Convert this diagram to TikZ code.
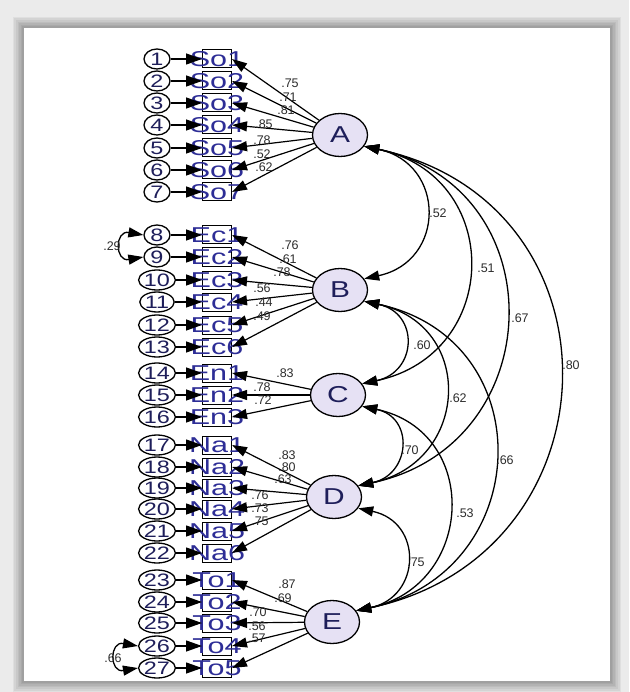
\documentclass[tikz,border=0pt]{standalone}
\usepackage{fontspec}
\setmainfont{Liberation Sans}
\newfontfamily\widesans[FakeStretch=1.3]{Liberation Sans}
\newfontfamily\widersans[FakeStretch=1.42]{Liberation Sans}
\usetikzlibrary{shapes.geometric,arrows.meta}

\definecolor{latfill}{RGB}{230,225,244}
\definecolor{itemblue}{RGB}{45,45,150}
\definecolor{navy}{RGB}{30,30,90}
\definecolor{coefgray}{RGB}{45,45,45}

\tikzset{
  error/.style={ellipse,draw,line width=1.3pt,minimum width=26pt,minimum height=20pt,
    inner sep=0pt,font=\widesans\fontsize{18}{18}\selectfont,text=navy},
  item/.style={rectangle,draw,line width=1pt,minimum width=29pt,minimum height=18pt,inner sep=0pt},
  itemtext/.style={inner sep=0pt,font=\widersans\fontsize{21.5}{21.5}\selectfont,text=itemblue},
  latent/.style={ellipse,draw,line width=1.3pt,fill=latfill,minimum width=55pt,minimum height=43pt,
    inner sep=0pt,font=\widesans\fontsize{23}{23}\selectfont,text=navy},
  errarrow/.style={line width=1.3pt,-{Triangle[length=16pt,width=11pt]}},
  load/.style={line width=1.2pt,-{Triangle[length=15pt,width=10pt]}},
  cov/.style={line width=1.3pt,{Triangle[length=15pt,width=10pt]}-{Triangle[length=15pt,width=10pt]}},
  coef/.style={inner sep=0pt,font=\fontsize{12.5}{12.5}\selectfont,text=coefgray}
}

\begin{document}
\begin{tikzpicture}[x=1pt,y=1pt]
\useasboundingbox (0,0) rectangle (629,-692);

% frame with shadow
\fill[black!8] (0,0) rectangle (629,-692);
\foreach \k in {0,...,7}
  \fill[black,opacity=0.05] (24-1.6*\k,-28+1.6*\k) rectangle (610+1.6*\k,-681-1.6*\k);
\fill[white] (24,-28) rectangle (610,-681);

% latent factors
\node[latent] (A) at (340,-135) {A};
\node[latent] (B) at (340,-290) {B};
\node[latent] (C) at (338,-395) {C};
\node[latent] (D) at (334,-497) {D};
\node[latent] (E) at (332,-622) {E};

% errors and observed items
\foreach \n/\lab/\y in {1/So1/59,2/So2/81,3/So3/103,4/So4/125,5/So5/148,6/So6/170,7/So7/192,
  8/Ec1/235,9/Ec2/257,10/Ec3/280,11/Ec4/302,12/Ec5/325,13/Ec6/347,
  14/En1/373,15/En2/395,16/En3/417,
  17/Na1/445,18/Na2/467,19/Na3/488,20/Na4/509,21/Na5/531,22/Na6/553,
  23/To1/580,24/To2/602,25/To3/623,26/To4/646,27/To5/668}{
  \node[error] (e\n) at (157,-\y) {\n};
  \node[item,label={[itemtext]center:\lab}] (i\n) at (217,-\y) {};
  \draw[errarrow] (e\n) -- (i\n);
}

% loadings
\foreach \lat/\n/\v/\lx/\ly in {A/1/.75/290/83,A/2/.71/288/97,A/3/.81/286/110,A/4/.85/264/124,
  A/5/.78/262/140,A/6/.52/262/154,A/7/.62/264/167,
  B/8/.76/290/245,B/9/.61/288/259,B/10/.78/282/272,B/11/.56/262/288,B/12/.44/264/302,B/13/.49/262/316,
  C/14/.83/285/373,C/15/.78/262/387,C/16/.72/263/400,
  D/17/.83/287/455,D/18/.80/287/467,D/19/.63/283/479,D/20/.76/260/495,D/21/.73/260/508,D/22/.75/260/521,
  E/23/.87/287/584,E/24/.69/283/598,E/25/.70/258/612,E/26/.56/257/626,E/27/.57/257/638}{
  \draw[load] (\lat) -- (i\n.east);
  \node[coef] (l\n) at (\lx,-\ly) {\v};
}

% error covariances
\draw[cov] (e8.west) to[out=170,in=190,looseness=3.4] (e9.west);
\node[coef] (r89) at (112,-246) {.29};
\draw[cov] (e26.west) to[out=170,in=190,looseness=3.4] (e27.west);
\node[coef] (r2627) at (113,-658) {.66};

% factor covariances
\draw[cov] (A.-25) to[out=-12,in=12,looseness=1.62] (B.25);
\draw[cov] (A.-25) to[out=-12,in=12,looseness=1.54] (C.25);
\draw[cov] (A.-25) to[out=-12,in=12,looseness=1.48] (D.25);
\draw[cov] (A.-25) to[out=-12,in=12,looseness=1.49] (E.25);
\draw[cov] (B.-25) to[out=-12,in=12,looseness=1.75] (C.25);
\draw[cov] (B.-25) to[out=-12,in=12,looseness=1.58] (D.25);
\draw[cov] (B.-25) to[out=-12,in=12,looseness=1.51] (E.25);
\draw[cov] (C.-25) to[out=-12,in=12,looseness=1.72] (D.25);
\draw[cov] (C.-25) to[out=-12,in=12,looseness=1.52] (E.25);
\draw[cov] (D.-25) to[out=-12,in=12,looseness=1.66] (E.25);

\node[coef] (rAB) at (438,-213) {.52};
\node[coef] (rAC) at (486,-268) {.51};
\node[coef] (rAD) at (520,-318) {.67};
\node[coef] (rAE) at (571,-365) {.80};
\node[coef] (rBC) at (422,-345) {.60};
\node[coef] (rBD) at (458,-398) {.62};
\node[coef] (rBE) at (505,-460) {.66};
\node[coef] (rCD) at (410,-450) {.70};
\node[coef] (rCE) at (465,-513) {.53};
\node[coef] (rDE) at (416,-562) {.75};
\end{tikzpicture}
\end{document}
